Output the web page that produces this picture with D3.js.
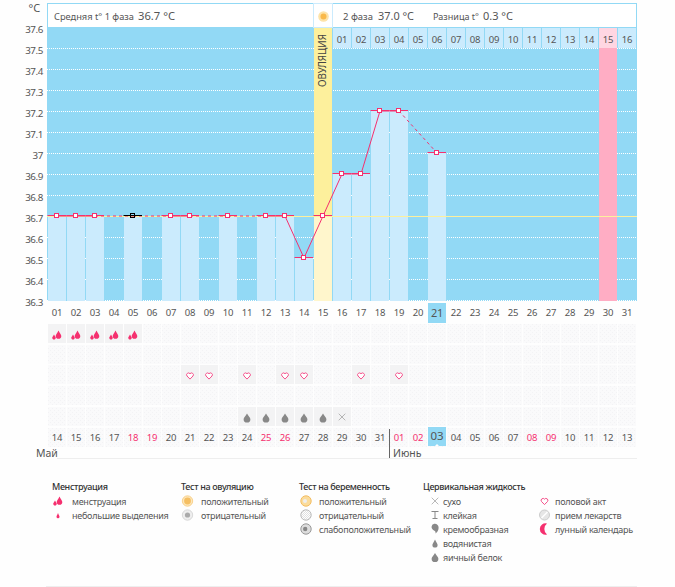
<!DOCTYPE html>
<html><head><meta charset="utf-8">
<script src="https://cdn.jsdelivr.net/npm/d3@7/dist/d3.min.js"></script>
<style>html,body{margin:0;padding:0;background:#fefefe}svg{display:block}text{font-family:"Noto Sans",sans-serif;fill:#555}</style>
</head><body><svg id="c" width="675" height="587"></svg>
<script>
const cycleDays = d3.range(1,32);
const lowerDayLabels = cycleDays.map(d=>String(d).padStart(2,'0'));
const topDayLabels = ["01","02","03","04","05","06","07","08","09","10","11","12","13","14","15","16"];
const dateLabels = ["14","15","16","17","18","19","20","21","22","23","24","25","26","27","28","29","30","31","01","02","03","04","05","06","07","08","09","10","11","12","13"];
const redDates = [5,6,12,13,19,20,26,27];
const temps = [36.7,36.7,36.7,null,36.7,null,36.7,36.7,null,36.7,null,36.7,36.7,36.5,36.7,36.9,36.9,37.2,37.2,null,37.0];
const tickVals = [37.6,37.5,37.4,37.3,37.2,37.1,37,36.9,36.8,36.7,36.6,36.5,36.4,36.3];
const tickLabels = ["37.6","37.5","37.4","37.3","37.2","37.1","37","36.9","36.8","36.7","36.6","36.5","36.4","36.3"];
const menstruationDays = [1,2,3,4,5];
const sexDays = [8,9,11,13,14,17,19];
const eggDays = [11,12,13,14,15];
const dryDays = [16];
const ovulationDay = 15, todayDay = 21, pinkDay = 30, blackDay = 5;
const legendGroups = [
 {title:"Менструация", items:[["менструация","mens"],["небольшие выделения","spot"]]},
 {title:"Тест на овуляцию", items:[["положительный","ovPos"],["отрицательный","ovNeg"]]},
 {title:"Тест на беременность", items:[["положительный","prPos"],["отрицательный","prNeg"],["слабоположительный","prWeak"]]},
 {title:"Цервикальная жидкость", items:[["сухо","dry"],["клейкая","sticky"],["кремообразная","cream"],["водянистая","water"],["яичный белок","egg"]]},
 {title:"", items:[["половой акт","heart"],["прием лекарств","pill"],["лунный календарь","moon"]]}
];

const BLUE="#92d9f5", LIGHT="#cbebfd", RED="#f5306f";
const svg=d3.select("#c");
const x=d3.scaleBand().domain(cycleDays).range([47,636]).padding(0);
const yRaw=d3.scaleLinear().domain([36.3,37.6]).range([300,27]);
const y=v=>Math.round(yRaw(v));
const cx=d=>x(d)+x.bandwidth()/2+.5;
const plotTop=48, plotBot=301;

const defs=svg.append("defs");
const pat=defs.append("pattern").attr("id","tx").attr("width",4).attr("height",4).attr("patternUnits","userSpaceOnUse");
pat.append("rect").attr("width",4).attr("height",4).attr("fill","#fafafb");
pat.append("path").attr("d","M0 0h1v1H0zM2 2h1v1H2z").attr("fill","#f3f3f5");
const hatch=defs.append("pattern").attr("id","hatch").attr("width",2).attr("height",2).attr("patternUnits","userSpaceOnUse");
hatch.append("rect").attr("width",2).attr("height",2).attr("fill","#fff");
hatch.append("path").attr("d","M0 2L2 0").attr("stroke","#ccc").attr("stroke-width",.6);

// plot ground
svg.append("rect").attr("x",47).attr("y",27).attr("width",590).attr("height",plotBot-27).attr("fill",BLUE);
// gridlines
svg.append("g").selectAll("line").data(tickVals.filter(v=>v<37.6)).join("line")
  .attr("x1",47).attr("x2",636).attr("y1",d=>y(d)+.5).attr("y2",d=>y(d)+.5)
  .attr("stroke","#fff").attr("stroke-dasharray","1 1");
// pink column + ovulation column
svg.append("rect").attr("x",x(pinkDay)+1).attr("y",plotTop).attr("width",x.bandwidth()-1).attr("height",plotBot-plotTop).attr("fill","#ffadc4");
svg.append("rect").attr("x",x(ovulationDay)+1).attr("y",27).attr("width",x.bandwidth()-1).attr("height",y(36.7)-27).attr("fill","#fdf09c");
// bars
svg.append("g").selectAll("rect").data(cycleDays.filter(d=>temps[d-1]!=null)).join("rect")
  .attr("x",d=>x(d)+1).attr("width",d=>x.bandwidth()-1)
  .attr("y",d=>y(temps[d-1])).attr("height",d=>plotBot-y(temps[d-1]))
  .attr("fill",d=>d===ovulationDay?"#fff6cc":LIGHT);
// top day cells
const topDays=d3.range(16,32);
svg.append("g").selectAll("rect").data(topDays).join("rect")
  .attr("x",d=>x(d)+1).attr("y",28).attr("width",x.bandwidth()-1).attr("height",20)
  .attr("fill",d=>d===pinkDay?"#ffd6e2":LIGHT);
svg.append("g").selectAll("text").data(topDays).join("text")
  .attr("x",cx).attr("y",43).attr("text-anchor","middle").attr("font-size",9.5).attr("letter-spacing",-.2)
  .text((d,i)=>topDayLabels[i]);
// 36.7 yellow line
svg.append("line").attr("x1",47).attr("x2",637).attr("y1",y(36.7)+.5).attr("y2",y(36.7)+.5).attr("stroke","#fdf09c");
// Header
svg.append("rect").attr("x",47.5).attr("y",3.5).attr("width",589).attr("height",24).attr("fill","#fff").attr("stroke",BLUE);
svg.append("rect").attr("x",313.5).attr("y",3.5).attr("width",19).attr("height",24).attr("fill","#fff").attr("stroke","#cbebfd");
const sun=svg.append("g").attr("transform","translate(323.5,16.5)");
sun.append("circle").attr("r",5.3).attr("fill","#fde3a8");
sun.append("circle").attr("r",3).attr("fill","#f9b94a");
const hdr=[[54,"Средняя t° 1 фаза",9.5,80],[138,"36.7 °C",11.5,37],[343,"2 фаза",9.5,30],[378,"37.0 °C",11.5,36],[433,"Разница t°",9.5,46],[483,"0.3 °C",10.5,30]];
svg.append("g").selectAll("text").data(hdr).join("text").attr("x",d=>d[0]).attr("y",20).attr("font-size",d=>d[2]).attr("textLength",d=>d[3]).attr("lengthAdjust","spacingAndGlyphs").text(d=>d[1]);
svg.append("text").attr("x",28.5).attr("y",12).attr("font-size",11).text("°C");
svg.append("text").attr("transform",`translate(326,87) rotate(-90)`).attr("font-size",10).attr("textLength",53).attr("lengthAdjust","spacingAndGlyphs").style("fill","#444").text("ОВУЛЯЦИЯ");
// y axis
const ax=svg.append("g").attr("transform","translate(43,2)").call(d3.axisLeft(yRaw).tickValues(tickVals).tickSize(0).tickPadding(0).tickFormat((d,i)=>tickLabels[i]));
ax.select(".domain").remove();
ax.selectAll("text").attr("font-size",9.8).attr("letter-spacing",-.4).attr("font-family",'"Noto Sans",sans-serif').style("fill","#555");

// Line
const pts=cycleDays.filter(d=>temps[d-1]!=null);
const seg=svg.append("g");
pts.slice(1).forEach((d,i)=>{
  const p=pts[i];
  seg.append("line").attr("x1",cx(p)).attr("x2",cx(d)).attr("y1",y(temps[p-1])).attr("y2",y(temps[d-1]))
    .attr("stroke",RED).attr("stroke-width",1).attr("stroke-dasharray",d-p>1?"3 3":null);
});
svg.append("g").selectAll("line").data(pts).join("line")
  .attr("x1",d=>x(d)+.5).attr("x2",d=>x(d)+x.bandwidth()).attr("y1",d=>y(temps[d-1])-.5).attr("y2",d=>y(temps[d-1])-.5)
  .attr("stroke",d=>d===blackDay?"#000":RED);
svg.append("g").selectAll("rect").data(pts).join("rect")
  .attr("x",d=>Math.round(cx(d))-2.5).attr("y",d=>y(temps[d-1])-2.5).attr("width",4).attr("height",4)
  .attr("fill",d=>d===blackDay?"none":"#fff").attr("stroke",d=>d===blackDay?"#000":RED);

// lower day labels
svg.append("rect").attr("x",x(todayDay)+1).attr("y",303).attr("width",x.bandwidth()-1).attr("height",20).attr("fill",BLUE);
svg.append("g").selectAll("text").data(cycleDays).join("text")
  .attr("x",cx).attr("y",d=>d===todayDay?317:316).attr("text-anchor","middle")
  .attr("font-size",d=>d===todayDay?11:9.5).attr("letter-spacing",-.2).text((d,i)=>lowerDayLabels[i]);

// event grid
const rowY=[324,345,365,386,407,428];
const rows=d3.range(6);
const cells=rows.flatMap(r=>cycleDays.map(d=>({r,d})));
const active=c=>(c.r===0&&menstruationDays.includes(c.d))||(c.r===2&&sexDays.includes(c.d))||(c.r===4&&(eggDays.includes(c.d)||dryDays.includes(c.d)));
svg.append("g").selectAll("rect").data(cells).join("rect")
  .attr("x",c=>x(c.d)+1).attr("y",c=>rowY[c.r]).attr("width",x.bandwidth()-1).attr("height",19)
  .attr("fill",c=>active(c)?"#f3f3f4":"url(#tx)");

// icons
const dropPath=(r,h)=>`M0 ${-h}C${r*.4} ${-h*.45} ${r} ${-r*.3} ${r} ${r*.2}A${r} ${r} 0 0 1 ${-r} ${r*.2}C${-r} ${-r*.3} ${-r*.4} ${-h*.45} 0 ${-h}Z`;
const heartPath="M0 3.6L-3 .5A1.8 1.8 0 0 1 0 -1.8A1.8 1.8 0 0 1 3 .5Z";
const icons={
 mens:g=>{g.append("path").attr("d",dropPath(1.8,3)).attr("fill",RED).attr("transform","translate(-3,2.5)");g.append("path").attr("d",dropPath(2.8,5)).attr("fill",RED).attr("transform","translate(1.5,.5)");},
 spot:g=>g.append("path").attr("d",dropPath(1.5,3.4)).attr("fill",RED).attr("transform","translate(0,1.5)"),
 ovPos:g=>{g.append("circle").attr("r",5.2).attr("fill","#fde8bd").attr("stroke","#f6c36b").attr("stroke-width",.7);g.append("circle").attr("r",3.4).attr("fill","#f5bf63");},
 ovNeg:g=>{g.append("circle").attr("r",5.2).attr("fill","#eee").attr("stroke","#ccc").attr("stroke-width",.7);g.append("circle").attr("r",2.6).attr("fill","#aaa");},
 prPos:g=>{g.append("circle").attr("r",5.2).attr("fill","#fbdc9c").attr("stroke","#f3bd62");g.append("circle").attr("r",2).attr("cx",-1).attr("fill","#eee");},
 prNeg:g=>{g.append("circle").attr("r",5.2).attr("fill","url(#hatch)").attr("stroke","#bbb");},
 prWeak:g=>{g.append("circle").attr("r",5.2).attr("fill","#ddd").attr("stroke","#999");g.append("circle").attr("r",2.2).attr("cx",-.8).attr("fill","#888");},
 dry:g=>g.append("path").attr("d","M-3.3 -3.3L3.3 3.3M3.3 -3.3L-3.3 3.3").attr("stroke","#999").attr("fill","none").attr("stroke-width",.7),
 sticky:g=>g.append("path").attr("d","M-3.5 -3.5H3.5M0 -3.5V3.5M-2.5 3.5H2.5").attr("stroke","#888").attr("fill","none"),
 cream:g=>g.append("path").attr("d","M-3.5 -2A3.5 3.5 0 0 1 3 -3.5C4.5 -1 3 3 .5 4.5C1.5 1 -3 2 -3.5 -2Z").attr("fill","#888"),
 water:g=>g.append("path").attr("d",dropPath(2.6,5)).attr("fill","#888").attr("transform","translate(0,1.5)"),
 egg:g=>g.append("path").attr("d",dropPath(3.4,5)).attr("fill","#888").attr("transform","translate(0,1)"),
 heart:g=>g.append("path").attr("d",heartPath).attr("fill","#fff").attr("stroke","#f5508a").attr("stroke-width",1),
 pill:g=>{g.append("circle").attr("r",5).attr("fill","#e6e6e6").attr("stroke","#ccc");g.append("path").attr("d","M-3 3L3 -3").attr("stroke","#fff").attr("stroke-width",1.5);},
 moon:g=>{g.append("path").attr("d","M2.5 -5.5A5.7 5.7 0 1 0 2.5 5.5A7 7 0 0 1 2.5 -5.5Z").attr("fill",RED);}
};
const place=(days,rowIdx,name,dy=0)=>days.forEach(d=>{
  const g=svg.append("g").attr("transform",`translate(${cx(d)},${rowY[rowIdx]+9.5+dy})`);
  icons[name](g);
});
place(menstruationDays,0,"mens",1.5);
place(sexDays,2,"heart",1);
place(eggDays,4,"egg",1);
place(dryDays,4,"dry",.5);

// dates
svg.append("rect").attr("x",x(todayDay)+1).attr("y",427).attr("width",x.bandwidth()-1).attr("height",19).attr("fill",BLUE);
svg.append("path").attr("transform",`translate(${cx(todayDay)},444)`).attr("d","M-2 2L0 0L2 2Z").attr("fill","#fff");
svg.append("g").selectAll("text").data(cycleDays).join("text")
  .attr("x",cx).attr("y",d=>d===todayDay?440:441).attr("text-anchor","middle")
  .attr("font-size",d=>d===todayDay?11.5:9.5).attr("letter-spacing",-.2)
  .style("fill",(d,i)=>redDates.includes(d)?RED:"#555")
  .text((d,i)=>dateLabels[i]);
svg.append("line").attr("x1",57).attr("x2",637).attr("y1",458.5).attr("y2",458.5).attr("stroke","#eee");
svg.append("line").attr("x1",389.5).attr("x2",389.5).attr("y1",429).attr("y2",458).attr("stroke","#666");
svg.append("text").attr("x",36).attr("y",457).attr("font-size",10.5).text("Май");
svg.append("text").attr("x",393).attr("y",457).attr("font-size",10.5).text("Июнь");

// legend
const legendX=[52,181,299,423,535], iconX=[58,187.5,306,435,544.5], textX=[72,201,319,443,555];
legendGroups.forEach((gr,gi)=>{
  if(gr.title) svg.append("text").attr("x",legendX[gi]).attr("y",490).attr("font-size",9).attr("letter-spacing",-.35).attr("font-weight",500).style("fill","#333").text(gr.title);
  gr.items.forEach((it,i)=>{
    const yy=501+14*i;
    svg.append("text").attr("x",textX[gi]).attr("y",yy+3.5).attr("font-size",9).attr("letter-spacing",-.25).text(it[0]);
    icons[it[1]](svg.append("g").attr("transform",`translate(${iconX[gi]},${yy})`));
  });
});
svg.append("line").attr("x1",46).attr("x2",637).attr("y1",586.5).attr("y2",586.5).attr("stroke","#eee");
</script></body></html>
